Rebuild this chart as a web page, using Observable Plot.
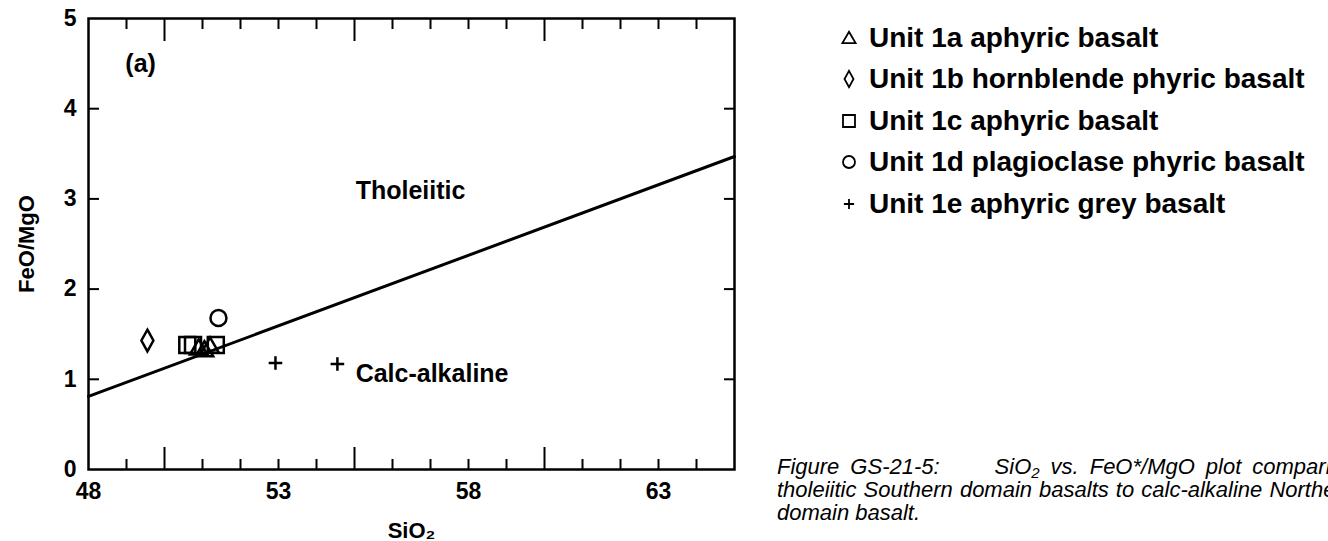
<!DOCTYPE html>
<html><head><meta charset="utf-8">
<script src="https://cdn.jsdelivr.net/npm/d3@7"></script>
<script src="https://cdn.jsdelivr.net/npm/@observablehq/plot@0.6"></script>
<style>
html,body{margin:0;padding:0;background:#fff;overflow:hidden;width:1328px;height:541px;}
#wrap{position:relative;width:1328px;height:541px;font-family:"Liberation Sans",Arial,sans-serif;overflow:hidden;}
#chart{position:absolute;left:0;top:0;}
#legend{position:absolute;left:837px;top:17px;}
.row{display:flex;align-items:center;height:41.5px;font-weight:bold;font-size:28px;color:#000;white-space:nowrap;}
.row svg{width:24px;height:24px;margin-right:8px;overflow:visible;}
#caption{position:absolute;left:777px;top:455px;width:578px;font-style:italic;font-size:22px;line-height:23px;text-align:justify;color:#000;}
#caption sub{font-size:15px;line-height:0;vertical-align:-4px;}
</style></head>
<body><div id="wrap"><div id="chart"></div><div id="legend"></div>
<div id="caption">Figure GS-21-5:&nbsp;&nbsp;&nbsp;&nbsp; SiO<sub>2</sub> vs. FeO*/MgO plot comparing tholeiitic Southern domain basalts to calc-alkaline Northern domain basalt.</div></div>
<script>
// ---- data ----
const unitNames = ["Unit 1a aphyric basalt", "Unit 1b hornblende phyric basalt", "Unit 1c aphyric basalt", "Unit 1d plagioclase phyric basalt", "Unit 1e aphyric grey basalt"];
const unitKeys = ["1a", "1b", "1c", "1d", "1e"];
const sio2_1a = [50.9, 51.05, 51.2];
const ratio_1a = [1.35, 1.33, 1.37];
const sio2_1b = [49.55];
const ratio_1b = [1.43];
const sio2_1c = [50.6, 50.75, 51.35];
const ratio_1c = [1.38, 1.38, 1.38];
const sio2_1d = [51.42];
const ratio_1d = [1.68];
const sio2_1e = [52.92, 54.55];
const ratio_1e = [1.18, 1.17];
const boundarySiO2 = [48, 65];
const boundaryRatio = [0.81, 3.47];
const fieldText = ["(a)", "Tholeiitic", "Calc-alkaline"];
const fieldSiO2 = [48.97, 55.03, 55.03];
const fieldRatio = [4.5, 3.09, 1.06];
const xTickLabels = [48, 53, 58, 63];
const xMinorTicks = [49, 51, 52, 53, 54, 56, 57, 58, 59, 61, 62, 63, 64];
const xMajorTicks = [50, 55, 60];
const yTickLabels = [0, 1, 2, 3, 4, 5];
const yTicks = [1, 2, 3, 4];

// ---- custom symbols (outline shapes) ----
const symTriangle = {draw(c, size) { const r = Math.sqrt(size / Math.PI); c.moveTo(0, -r * 1.05); c.lineTo(r * 1.1, r * 0.85); c.lineTo(-r * 1.1, r * 0.85); c.closePath(); }};
const symDiamond = {draw(c, size) { const r = Math.sqrt(size / Math.PI); c.moveTo(0, -r * 1.35); c.lineTo(r * 0.75, 0); c.lineTo(0, r * 1.35); c.lineTo(-r * 0.75, 0); c.closePath(); }};
const symSquare = {draw(c, size) { const r = Math.sqrt(size / Math.PI); c.rect(-r, -r, 2 * r, 2 * r); }};
const symCircle = {draw(c, size) { const r = Math.sqrt(size / Math.PI); c.moveTo(r, 0); c.arc(0, 0, r, 0, 2 * Math.PI); }};
const symPlus = {draw(c, size) { const r = Math.sqrt(size / Math.PI); c.moveTo(-r * 0.85, 0); c.lineTo(r * 0.85, 0); c.moveTo(0, -r * 0.85); c.lineTo(0, r * 0.85); }};
const unitSymbols = [symTriangle, symDiamond, symSquare, symCircle, symPlus];

const seriesX = [sio2_1a, sio2_1b, sio2_1c, sio2_1d, sio2_1e];
const seriesY = [ratio_1a, ratio_1b, ratio_1c, ratio_1d, ratio_1e];
const points = [];
unitKeys.forEach((k, i) => seriesX[i].forEach((x, j) => points.push({unit: k, sio2: x, ratio: seriesY[i][j]})));
const boundary = boundarySiO2.map((x, i) => ({sio2: x, ratio: boundaryRatio[i]}));
const fields = fieldText.map((t, i) => ({text: t, sio2: fieldSiO2[i], ratio: fieldRatio[i]}));

const font = "Liberation Sans, Arial, sans-serif";
const chart = Plot.plot({
  width: 1328, height: 541,
  marginLeft: 88, marginRight: 594, marginTop: 18, marginBottom: 72,
  style: {fontFamily: font, color: "#000", background: "transparent"},
  x: {domain: [48, 65]},
  y: {domain: [0, 5]},
  symbol: {domain: unitKeys, range: unitSymbols},
  marks: [
    Plot.line(boundary, {x: "sio2", y: "ratio", stroke: "#000", strokeWidth: 3}),
    Plot.frame({stroke: "#000", strokeWidth: 2.5}),
    Plot.axisX({anchor: "bottom", ticks: xMinorTicks, tickSize: -10, fill: "none", strokeWidth: 2, label: null}),
    Plot.axisX({anchor: "bottom", ticks: xMajorTicks, tickSize: -22, fill: "none", strokeWidth: 2, label: null}),
    Plot.axisX({anchor: "top", ticks: xMinorTicks, tickSize: -10, fill: "none", strokeWidth: 2, label: null}),
    Plot.axisX({anchor: "top", ticks: xMajorTicks, tickSize: -22, fill: "none", strokeWidth: 2, label: null}),
    Plot.axisX({anchor: "bottom", ticks: xTickLabels, tickFormat: "d", tickSize: 0, tickPadding: 13, fontSize: 23, fontWeight: "bold",
      label: "SiO₂", labelAnchor: "center", labelOffset: 68, labelArrow: "none"}),
    Plot.axisY({anchor: "left", ticks: yTicks, tickSize: -11, fill: "none", strokeWidth: 2, label: null}),
    Plot.axisY({anchor: "right", ticks: yTicks, tickSize: -11, fill: "none", strokeWidth: 2, label: null}),
    Plot.axisY({anchor: "left", ticks: yTickLabels, tickFormat: "d", tickSize: 0, tickPadding: 12, fontSize: 23, fontWeight: "bold",
      label: "FeO/MgO", labelAnchor: "center", labelOffset: 70, labelArrow: "none"}),
    Plot.dot(points, {x: "sio2", y: "ratio", symbol: "unit", r: 8, stroke: "#000", strokeWidth: 2.5, fill: "none"}),
    Plot.text(fields, {x: "sio2", y: "ratio", text: "text", textAnchor: "start", fontSize: 25, fontWeight: "bold", fill: "#000"})
  ]
});
chart.querySelectorAll("text").forEach(t => {
  const s = t.textContent;
  t.setAttribute("font-weight", "bold");
  t.setAttribute("fill", "#000");
  if (s === "FeO/MgO" || s === "SiO₂") t.setAttribute("font-size", 22);
});
document.getElementById("chart").appendChild(chart);

// ---- legend ----
const legend = d3.select("#legend");
unitNames.forEach((name, i) => {
  const row = legend.append("div").attr("class", "row");
  const svg = row.append("svg").attr("viewBox", "-12 -12 24 24");
  svg.append("path").attr("d", d3.symbol(unitSymbols[i], Math.PI * 36)()).attr("fill", "none").attr("stroke", "#000").attr("stroke-width", 1.8);
  row.append("span").text(name);
});
</script>
</body></html>
